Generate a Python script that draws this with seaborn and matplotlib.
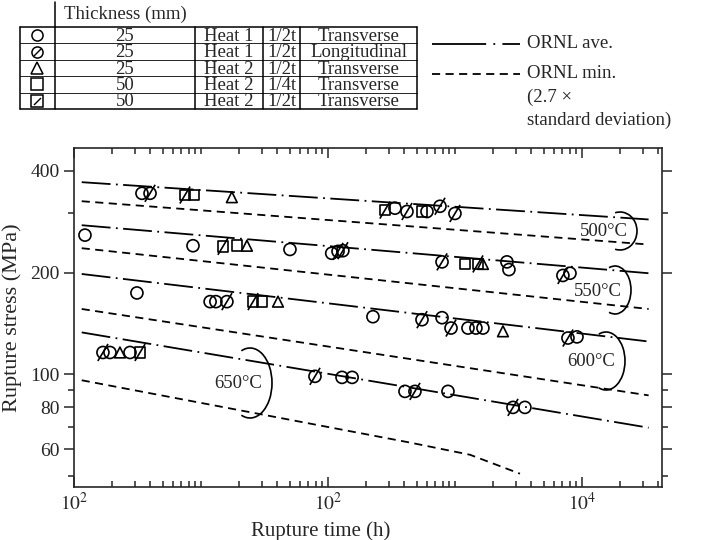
import matplotlib

matplotlib.use("Agg")
import matplotlib.pyplot as plt
import numpy as np
import pandas as pd
import seaborn as sns
from matplotlib.patches import Arc
from matplotlib.path import Path
from matplotlib.ticker import FixedLocator, LogLocator, NullFormatter

# rupture tests: time (h), stress (MPa), specimen code
# o = 25mm heat1 transverse, os = 25mm heat1 longitudinal, t = 25mm heat2,
# s = 50mm heat2 1/4t, ss = 50mm heat2 1/2t
t500 = [3.43, 3.97, 7.48, 8.81, 17.5, 281, 337, 419, 550, 602, 762, 1000]
s500 = [343, 343, 339, 339, 334, 306, 310, 303, 303, 303, 314, 299]
m500 = ["o", "os", "ss", "s", "t", "ss", "o", "os", "s", "o", "os", "os"]

t550 = [1.22, 8.65, 14.9, 19.2, 23.0, 50.2, 107, 120, 131, 791, 1199, 1517, 1661, 2566, 2661, 7080, 8050]
s550 = [258, 240, 239, 240, 240, 234, 228, 231, 232, 215, 212, 212, 212, 215, 204, 196, 199]
m550 = ["o", "o", "ss", "s", "t", "o", "o", "os", "os", "os", "s", "ss", "t", "o", "o", "os", "o"]

t600 = [3.13, 11.8, 13.1, 16.0, 25.7, 30.2, 40.4, 226, 550, 791, 931, 1266, 1463, 1661, 2388, 7760, 9140]
s600 = [174, 164, 164, 164, 164, 164, 164, 148, 145, 147, 137, 137, 137, 137, 134, 128, 129]
m600 = ["o", "o", "o", "os", "ss", "s", "t", "o", "os", "o", "os", "o", "o", "o", "t", "os", "o"]

t650 = [1.69, 1.92, 2.30, 2.76, 3.31, 79.0, 129, 155, 404, 484, 881, 2863, 3556]
s650 = [116, 116, 116, 116, 116, 98.6, 97.9, 97.9, 89.0, 89.0, 89.0, 79.8, 79.8]
m650 = ["os", "o", "t", "o", "ss", "os", "o", "o", "o", "os", "o", "os", "o"]

# ORNL average and minimum curves
line_time = [1.15, 33500]
ave_500 = [370, 287]
ave_550 = [276, 199]
ave_600 = [198, 125]
ave_650 = [133, 69.5]
min_500 = [325, 242]
min_550 = [236, 156]
min_600 = [156, 86.6]
min650_time = [1.15, 442, 1313, 3250]
min_650 = [96, 62.8, 57.8, 50.8]

temp_labels = ["500°C", "550°C", "600°C", "650°C"]

table_rows = [
    ["25", "Heat 1", "1/2t", "Transverse"],
    ["25", "Heat 1", "1/2t", "Longitudinal"],
    ["25", "Heat 2", "1/2t", "Transverse"],
    ["50", "Heat 2", "1/4t", "Transverse"],
    ["50", "Heat 2", "1/2t", "Transverse"],
]
table_codes = ["o", "os", "t", "s", "ss"]

sns.set_style("ticks")
plt.rcParams["font.family"] = ["Liberation Serif", "DejaVu Serif"]
plt.rcParams["mathtext.fontset"] = "stix"

df = pd.concat(
    [
        pd.DataFrame({"time": t, "stress": s, "code": m})
        for t, s, m in [(t500, s500, m500), (t550, s550, m550), (t600, s600, m600), (t650, s650, m650)]
    ],
    ignore_index=True,
)

fig = plt.figure(figsize=(7.06, 5.40), dpi=100)
ax = fig.add_axes([74 / 706, 53 / 540, 588 / 706, 339 / 540])
ax.set_xscale("log")
ax.set_yscale("log")

ave_style = (0, (16, 3, 1, 3))
min_style = (0, (4.5, 3))
for ys in [ave_500, ave_550, ave_600, ave_650]:
    sns.lineplot(x=line_time, y=ys, ax=ax, color="black", lw=1.3, linestyle=ave_style,
                 estimator=None, sort=False)
for xs, ys in [(line_time, min_500), (line_time, min_550), (line_time, min_600), (min650_time, min_650)]:
    sns.lineplot(x=xs, y=ys, ax=ax, color="black", lw=1.3, linestyle=min_style,
                 estimator=None, sort=False)

shape = {"o": "o", "os": "o", "t": "^", "s": "s", "ss": "s"}
size = {"o": 75, "os": 75, "t": 60, "s": 58, "ss": 58}
slash = Path([(-0.6, -1), (0.6, 1)], [Path.MOVETO, Path.LINETO])

for code in shape:
    sub = df[df["code"] == code]
    sns.scatterplot(data=sub, x="time", y="stress", ax=ax, marker=shape[code], s=size[code],
                    facecolor="none", edgecolor="black", linewidth=1.2, zorder=3)
sub = df[df["code"].isin(["os", "ss"])]
sns.scatterplot(data=sub, x="time", y="stress", ax=ax, marker=slash, s=150,
                facecolor="none", edgecolor="black", linewidth=1.2, zorder=3)

ax.set_xlim(1, 42700)
ax.set_ylim(46.4, 467)
ax.xaxis.set_major_locator(FixedLocator([1, 100, 10000]))
ax.set_xticklabels(["$10^2$", "$10^2$", "$10^4$"])
ax.xaxis.set_minor_locator(LogLocator(base=10, subs=np.arange(2, 11)))
ax.xaxis.set_minor_formatter(NullFormatter())
ax.yaxis.set_major_locator(FixedLocator([60, 80, 100, 200, 400]))
ax.set_yticklabels(["60", "80", "100", "200", "400"])
ax.yaxis.set_minor_locator(FixedLocator([50, 70, 90, 300]))
ax.yaxis.set_minor_formatter(NullFormatter())
ax.tick_params(which="both", direction="in", top=True, right=True, labelsize=14, width=1.1)
ax.tick_params(axis="y", which="both", direction="out")
ax.tick_params(axis="y", which="both", right=True)
ax.tick_params(which="major", length=7)
ax.tick_params(which="minor", length=4)
for sp in ax.spines.values():
    sp.set_linewidth(1.2)
ax.set_xlabel("Rupture time (h)", fontsize=15)
ax.xaxis.set_label_coords(0.42, -0.1)
ax.set_ylabel("Rupture stress (MPa)", fontsize=16)
ax.yaxis.set_label_coords(-0.088, 0.5)

# overlay in pixel coordinates for the specimen table, legend and bracket labels
ov = fig.add_axes([0, 0, 1, 1], zorder=5)
ov.set_xlim(0, 706)
ov.set_ylim(540, 0)
ov.axis("off")

col_x = [20, 55, 195, 263, 300, 417]
row_top, row_h = 27, 16.4
row_bottom = row_top + row_h * len(table_rows)
for x in col_x:
    ov.plot([x, x], [row_top, row_bottom], color="black", lw=1.1)
ov.plot([55, 55], [2, row_top], color="black", lw=1.1)
for i in range(len(table_rows) + 1):
    y = row_top + i * row_h
    ov.plot([col_x[0], col_x[-1]], [y, y], color="black", lw=1.1 if i in (0, len(table_rows)) else 0.6)
ov.text(64, 14, "Thickness (mm)", fontsize=13.5, ha="left", va="center")

centers = [(col_x[j] + col_x[j + 1]) / 2 for j in range(1, 5)]
small_slash = Path([(-0.5, -0.5), (0.5, 0.5)], [Path.MOVETO, Path.LINETO])
for i, (row, code) in enumerate(zip(table_rows, table_codes)):
    y = row_top + (i + 0.5) * row_h
    ov.plot(37, y, marker=shape[code], ms=8, mfc="none", mec="black", mew=1.1)
    if code in ("os", "ss"):
        ov.plot(37, y, marker=small_slash, ms=5, mfc="none", mec="black", mew=1.0)
    for cx, txt in zip(centers, row):
        ov.text(cx, y + 1, txt, fontsize=13.5, ha="center", va="center")

ov.plot([432, 520], [44, 44], color="black", lw=1.3, linestyle=(0, (30, 4, 1, 4)))
ov.text(527, 44, "ORNL ave.", fontsize=13.5, ha="left", va="center")
ov.plot([432, 520], [74, 74], color="black", lw=1.3, linestyle=min_style)
ov.text(527, 74, "ORNL min.", fontsize=13.5, ha="left", va="center")
ov.text(527, 97, "(2.7 ×", fontsize=13.5, ha="left", va="center")
ov.text(527, 120, "standard deviation)", fontsize=13.5, ha="left", va="center")

label_pos = [(604, 232), (598, 291), (591, 362), (238, 384)]
brackets = [(620, 231, 17, 19), (615, 290, 16, 24), (606, 361, 19, 29), (250, 383, 22, 35)]
for lab, (lx, ly), (bx, by, rx, ry) in zip(temp_labels, label_pos, brackets):
    ov.text(lx, ly, lab, fontsize=13.5, ha="center", va="center")
    ov.add_patch(Arc((bx, by), 2 * rx, 2 * ry, theta1=-105, theta2=105, color="black", lw=1.2))

fig.savefig("out.png", dpi=100)
